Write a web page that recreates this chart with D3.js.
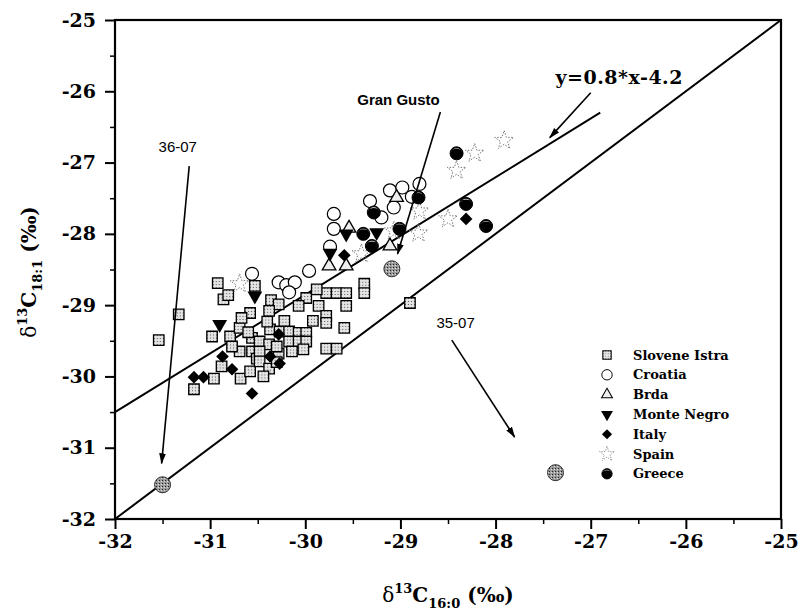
<!DOCTYPE html>
<head>
  <meta charset="utf-8">
  <script src="https://d3js.org/d3.v7.min.js"></script>
  <style>
    body { margin: 0; background: #fff; }
    svg { width: 801px; height: 613px; display: block; }
    text { font-family: "DejaVu Serif", serif; }
  </style>
</head>

<body>
  <svg></svg>

  <script>
    const width = 801;
    const height = 613;

    // series names, in legend order
    const seriesNames = ['Slovene Istra', 'Croatia', 'Brda', 'Monte Negro', 'Italy', 'Spain', 'Greece'];

    // [d13C 16:0, d13C 18:1]
    const slovene = [
      [-31.54, -29.49], [-31.33, -29.13], [-30.92, -28.69], [-30.86, -28.92], [-30.81, -28.86],
      [-30.98, -29.44], [-30.79, -29.44], [-30.69, -29.32], [-30.58, -29.11], [-30.69, -29.65],
      [-30.56, -29.46], [-30.56, -29.65], [-30.51, -29.75], [-30.88, -29.86], [-30.96, -30.03],
      [-30.68, -30.03], [-30.58, -29.93], [-31.17, -30.18], [-30.53, -28.73], [-30.36, -28.93],
      [-30.28, -28.99], [-30.38, -29.08], [-29.99, -28.90], [-30.07, -29.01], [-29.78, -28.83],
      [-29.67, -28.83], [-29.57, -28.83], [-29.38, -28.70], [-29.38, -28.83], [-29.86, -29.01],
      [-29.57, -29.01], [-29.78, -29.15], [-29.78, -29.25], [-29.59, -29.32], [-30.37, -29.34],
      [-30.27, -29.37], [-30.17, -29.37], [-30.07, -29.39], [-29.99, -29.39], [-30.17, -29.51],
      [-30.07, -29.51], [-29.99, -29.51], [-29.78, -29.61], [-29.67, -29.61], [-30.48, -29.51],
      [-30.38, -29.55], [-30.48, -29.65], [-30.28, -29.68], [-30.48, -29.79], [-30.38, -29.89],
      [-28.90, -28.97], [-30.67, -29.18], [-30.40, -29.23], [-30.44, -30.00], [-30.30, -29.58],
      [-30.77, -29.58], [-30.14, -29.65], [-30.22, -29.22], [-29.92, -29.22], [-30.60, -29.38],
      [-30.02, -29.62], [-29.88, -28.78], [-30.30, -29.80]
    ];
    const croatia = [
      [-30.56, -28.56], [-30.28, -28.68], [-30.20, -28.72], [-30.11, -28.68], [-30.17, -28.82],
      [-29.96, -28.52], [-29.70, -27.72], [-29.70, -27.93], [-29.32, -27.54], [-29.20, -27.77],
      [-29.11, -27.39], [-29.07, -27.63], [-28.98, -27.35], [-28.80, -27.30], [-28.88, -27.48],
      [-29.74, -28.18]
    ];
    const brda = [[-29.04, -27.49], [-29.54, -27.92], [-29.11, -28.17], [-29.75, -28.45], [-29.57, -28.45]];
    const monteNegro = [[-30.90, -29.27], [-30.53, -28.87], [-29.74, -28.27], [-29.57, -28.00], [-29.25, -27.98]];
    const italy = [
      [-31.17, -30.01], [-31.07, -30.01], [-30.87, -29.72], [-30.77, -29.90], [-30.56, -30.24],
      [-30.37, -29.72], [-30.27, -29.82], [-30.28, -29.41], [-29.59, -28.30], [-28.31, -27.79]
    ];
    const spain = [
      [-27.91, -26.69], [-28.22, -26.87], [-28.41, -27.11], [-28.80, -27.68], [-28.50, -27.79],
      [-29.07, -27.96], [-28.81, -27.99], [-29.41, -28.28], [-30.69, -28.70]
    ];
    const greece = [
      [-29.28, -27.70], [-28.81, -27.49], [-29.39, -28.00], [-29.30, -28.17], [-29.01, -27.93],
      [-28.41, -26.87], [-28.31, -27.58], [-28.10, -27.89]
    ];
    // labelled samples (grey circles)
    const specialNames = ['Gran Gusto', '36-07', '35-07'];
    const specialPoints = [[-29.09, -28.49], [-31.50, -31.52], [-27.37, -31.35]];

    // lines: 1:1 line and the fitted line as drawn
    const diagX = [-32, -25];
    const diagY = [-32, -25];
    const fitX = [-32, -26.9];
    const fitY = [-30.5, -26.3];

    const majorTicks = [-32, -31, -30, -29, -28, -27, -26, -25];
    const minorTicks = [-31.5, -30.5, -29.5, -28.5, -27.5, -26.5, -25.5];

    const x = d3.scaleLinear().domain([-32, -25]).range([115, 781]);
    const y = d3.scaleLinear().domain([-32, -25]).range([519, 20]);

    const svg = d3.select('svg').attr('viewBox', `0 0 ${width} ${height}`);

    // speckle patterns
    const defs = svg.append('defs');
    const sq = defs.append('pattern').attr('id', 'speck').attr('width', 3).attr('height', 3)
      .attr('patternUnits', 'userSpaceOnUse');
    sq.append('rect').attr('width', 3).attr('height', 3).attr('fill', '#e4e4e4');
    sq.append('rect').attr('x', 1).attr('y', 1).attr('width', 1).attr('height', 1).attr('fill', '#555');
    const dk = defs.append('pattern').attr('id', 'speckDark').attr('width', 3).attr('height', 3)
      .attr('patternUnits', 'userSpaceOnUse');
    dk.append('rect').attr('width', 3).attr('height', 3).attr('fill', '#9a9a9a');
    dk.append('rect').attr('width', 1).attr('height', 1).attr('fill', '#222');
    dk.append('rect').attr('x', 2).attr('y', 1).attr('width', 1).attr('height', 1).attr('fill', '#e0e0e0');

    defs.append('marker').attr('id', 'arrow').attr('viewBox', '0 0 10 10')
      .attr('refX', 9).attr('refY', 5).attr('markerWidth', 7).attr('markerHeight', 7)
      .attr('orient', 'auto-start-reverse')
      .append('path').attr('d', 'M0,2 L10,5 L0,8 Z').attr('fill', '#000');

    /*****************************************************
    ** axes
    ******************************************************/
    const tickFont = g => g.selectAll('text')
      .attr('font-family', '"DejaVu Serif", serif').attr('font-weight', 'bold')
      .attr('font-size', 19).attr('fill', '#000');

    svg.append('g').attr('transform', `translate(0,${y(-32)})`)
      .call(d3.axisBottom(x).tickValues(majorTicks).tickSize(10).tickPadding(6).tickFormat(d => String(d)))
      .call(g => g.select('.domain').remove())
      .call(g => g.selectAll('line').attr('stroke-width', 2))
      .call(tickFont);
    svg.append('g').attr('transform', `translate(0,${y(-32)})`)
      .call(d3.axisBottom(x).tickValues(minorTicks).tickSize(5).tickFormat(''))
      .call(g => g.select('.domain').remove())
      .call(g => g.selectAll('line').attr('stroke-width', 1.5));

    svg.append('g').attr('transform', `translate(${x(-32)},0)`)
      .call(d3.axisLeft(y).tickValues(majorTicks).tickSize(10).tickPadding(9).tickFormat(d => String(d)))
      .call(g => g.select('.domain').remove())
      .call(g => g.selectAll('line').attr('stroke-width', 2))
      .call(tickFont);
    svg.append('g').attr('transform', `translate(${x(-32)},0)`)
      .call(d3.axisLeft(y).tickValues(minorTicks).tickSize(5).tickFormat(''))
      .call(g => g.select('.domain').remove())
      .call(g => g.selectAll('line').attr('stroke-width', 1.5));

    // frame
    svg.append('rect')
      .attr('x', x(-32)).attr('y', y(-25))
      .attr('width', x(-25) - x(-32)).attr('height', y(-32) - y(-25))
      .attr('fill', 'none').attr('stroke', '#000').attr('stroke-width', 2.2);

    /*****************************************************
    ** lines
    ******************************************************/
    const line = d3.line().x(d => x(d[0])).y(d => y(d[1]));
    svg.append('path').datum(d3.zip(diagX, diagY)).attr('d', line)
      .attr('stroke', '#000').attr('stroke-width', 2).attr('fill', 'none');
    svg.append('path').datum(d3.zip(fitX, fitY)).attr('d', line)
      .attr('stroke', '#000').attr('stroke-width', 2).attr('fill', 'none');

    /*****************************************************
    ** points
    ******************************************************/
    const sym = (type, size) => d3.symbol().type(type).size(size)();

    const markers = {
      'Slovene Istra': g => g.append('path').attr('d', sym(d3.symbolSquare, 110))
        .attr('fill', 'url(#speck)').attr('stroke', '#000').attr('stroke-width', 1.3),
      'Croatia': g => g.append('circle').attr('r', 6.5)
        .attr('fill', '#fff').attr('stroke', '#000').attr('stroke-width', 1.2),
      'Brda': g => g.append('path').attr('d', sym(d3.symbolTriangle, 80))
        .attr('fill', '#eee').attr('stroke', '#000').attr('stroke-width', 1.3),
      'Monte Negro': g => g.append('path').attr('d', sym(d3.symbolTriangle, 95))
        .attr('transform', 'rotate(180)').attr('fill', '#000'),
      'Italy': g => g.append('path').attr('d', sym(d3.symbolSquare, 80))
        .attr('transform', 'rotate(45)').attr('fill', '#000'),
      'Spain': g => g.append('path').attr('d', sym(d3.symbolStar, 110))
        .attr('fill', 'none').attr('stroke', '#777').attr('stroke-width', 1)
        .attr('stroke-dasharray', '1.5,1.5'),
      'Greece': g => {
        g.append('circle').attr('r', 6.5).attr('fill', '#000').attr('stroke', '#000');
        g.append('path').attr('d', 'M-5.5,-1.5 A6 6 0 0 1 5.5,-1.5 A5.5 3 0 0 0 -5.5,-1.5 Z')
          .attr('fill', '#fff');
      },
    };

    const seriesData = [slovene, croatia, brda, monteNegro, italy, spain, greece];
    seriesNames.forEach((name, i) => {
      svg.append('g').selectAll('g')
        .data(seriesData[i]).enter().append('g')
        .attr('transform', d => `translate(${x(d[0])},${y(d[1])})`)
        .each(function() { markers[name](d3.select(this)); });
    });

    svg.append('g').selectAll('circle')
      .data(specialPoints).enter().append('circle')
      .attr('cx', d => x(d[0])).attr('cy', d => y(d[1])).attr('r', 8)
      .attr('fill', 'url(#speckDark)').attr('stroke', '#333').attr('stroke-width', 1);

    /*****************************************************
    ** annotations
    ******************************************************/
    const notes = [
      { text: specialNames[0], tx: -29.02, ty: -26.12, from: [-28.58, -26.29], to: [-29.03, -28.28], font: 'bold 15px "Liberation Sans", sans-serif', ls: 0 },
      { text: specialNames[1], tx: -31.34, ty: -26.78, from: [-31.22, -27.05], to: [-31.51, -31.22], font: '15px "Liberation Sans", sans-serif', ls: 0 },
      { text: specialNames[2], tx: -28.42, ty: -29.25, from: [-28.46, -29.49], to: [-27.80, -30.85], font: '15px "Liberation Sans", sans-serif', ls: 0 },
      { text: 'y=0.8*x-4.2', tx: -26.70, ty: -25.80, from: [-27.0, -26.02], to: [-27.43, -26.65], font: 'bold 19px "DejaVu Serif", serif', ls: 0.5 },
    ];
    notes.forEach(n => {
      svg.append('line')
        .attr('x1', x(n.from[0])).attr('y1', y(n.from[1]))
        .attr('x2', x(n.to[0])).attr('y2', y(n.to[1]))
        .attr('stroke', '#000').attr('stroke-width', 1.6)
        .attr('marker-end', 'url(#arrow)');
      svg.append('text')
        .attr('x', x(n.tx)).attr('y', y(n.ty))
        .attr('text-anchor', 'middle').attr('dominant-baseline', 'central')
        .style('font', n.font).style('letter-spacing', n.ls + 'px')
        .text(n.text);
    });

    /*****************************************************
    ** legend
    ******************************************************/
    const legend = svg.append('g').attr('transform', 'translate(607,355)');
    seriesNames.forEach((name, i) => {
      const row = legend.append('g').attr('transform', `translate(0,${i * 19.8})`);
      markers[name](row.append('g').attr('transform', 'scale(0.8)'));
      row.append('text').attr('x', 26).attr('y', 0).attr('dominant-baseline', 'central')
        .attr('font-weight', 'bold').attr('font-size', 13).text(name);
    });

    /*****************************************************
    ** axis titles
    ******************************************************/
    const title = (g, sub) => {
      const t = g.append('text').attr('font-weight', 'bold').attr('font-size', 20);
      t.append('tspan').attr('font-weight', 'normal').text('δ');
      t.append('tspan').attr('font-size', 13).attr('dy', -9).text('13');
      t.append('tspan').attr('dy', 9).text('C');
      t.append('tspan').attr('font-size', 13).attr('dy', 6).text(sub);
      t.append('tspan').attr('dy', -6).text(' (‰)');
      return t;
    };
    title(svg.append('g').attr('transform', 'translate(448,602)'), '16:0')
      .attr('text-anchor', 'middle');
    title(svg.append('g').attr('transform', 'translate(36,272) rotate(-90)'), '18:1')
      .attr('text-anchor', 'middle');
  </script>
</body>
